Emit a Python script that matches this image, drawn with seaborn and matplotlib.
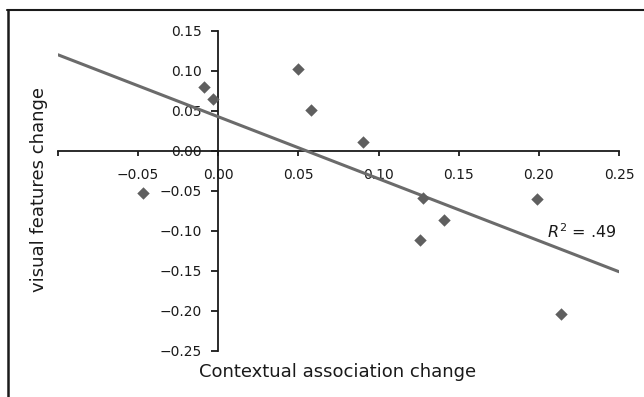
import matplotlib
matplotlib.use("Agg")
import matplotlib.pyplot as plt
import seaborn as sns
import pandas as pd
from matplotlib.lines import Line2D

# values
context_change = [-0.047, -0.009, -0.003, 0.050, 0.058, 0.090, 0.128, 0.199, 0.141, 0.126, 0.214]
visual_change = [-0.0525, 0.080, 0.065, 0.1025, 0.051, 0.011, -0.059, -0.060, -0.086, -0.111, -0.204]
x_ticks = [-0.10, -0.05, 0.00, 0.05, 0.10, 0.15, 0.20, 0.25]
y_ticks = [-0.25, -0.20, -0.15, -0.10, -0.05, 0.00, 0.05, 0.10, 0.15]
r2_label = ".49"

sns.set_style("white")
plt.rcParams["font.family"] = ["DejaVu Sans"]
plt.rcParams["mathtext.fontset"] = "dejavusans"

df = pd.DataFrame({"x": context_change, "y": visual_change})

fig = plt.figure(figsize=(6.44, 3.97), dpi=100)
ax = fig.add_axes([58 / 644, 46 / 397, (619 - 58) / 644, (351 - 31) / 397])
ax.set_xlim(-0.1, 0.25)
ax.set_ylim(-0.25, 0.15)

sns.regplot(data=df, x="x", y="y", ax=ax, ci=None, truncate=False, marker="D",
            scatter_kws=dict(s=40, color="#5f5f5f", linewidths=0, alpha=1, zorder=3),
            line_kws=dict(color="#6b6b6b", lw=2.2, zorder=2))

# excel style axes crossing at zero
for side in ["top", "right"]:
    ax.spines[side].set_visible(False)
for side in ["left", "bottom"]:
    ax.spines[side].set_position(("data", 0))
    ax.spines[side].set_color("#1a1a1a")
    ax.spines[side].set_linewidth(1.3)
    ax.spines[side].set_zorder(1)

ax.set_xticks(x_ticks)
ax.set_xticklabels([""] + [f"{v:.2f}".replace("-", "\u2212") for v in x_ticks[1:]])
ax.set_yticks(y_ticks)
ax.set_yticklabels([f"{v:.2f}".replace("-", "\u2212") for v in y_ticks])
ax.tick_params(axis="x", direction="out", length=3.5, width=1.3, pad=9,
               labelsize=10, colors="#1a1a1a", bottom=True)
ax.tick_params(axis="y", direction="out", length=5, width=1.3, pad=7,
               labelsize=10, colors="#1a1a1a", left=True)
ax.set_xlabel("")
ax.set_ylabel("")
ax.grid(False)

ax.text(0.2488, -0.101, r"$R^2$ = " + r2_label, ha="right", va="center",
        fontsize=11.5, color="#1a1a1a")

fig.text(338 / 644, (397 - 377) / 397, "Contextual association change",
         ha="center", va="baseline", fontsize=13, color="#1a1a1a")
fig.text(39 / 644, 1 - 190 / 397, "visual features change", rotation=90,
         ha="center", va="center", fontsize=13, color="#1a1a1a")

# frame around the figure (top and left edges)
fig.add_artist(Line2D([7 / 644, 1], [1 - 10 / 397, 1 - 10 / 397], color="#1a1a1a", lw=1.5))
fig.add_artist(Line2D([8 / 644, 8 / 644], [0, 1 - 10 / 397], color="#1a1a1a", lw=1.8))

fig.savefig("out.png", dpi=100)
